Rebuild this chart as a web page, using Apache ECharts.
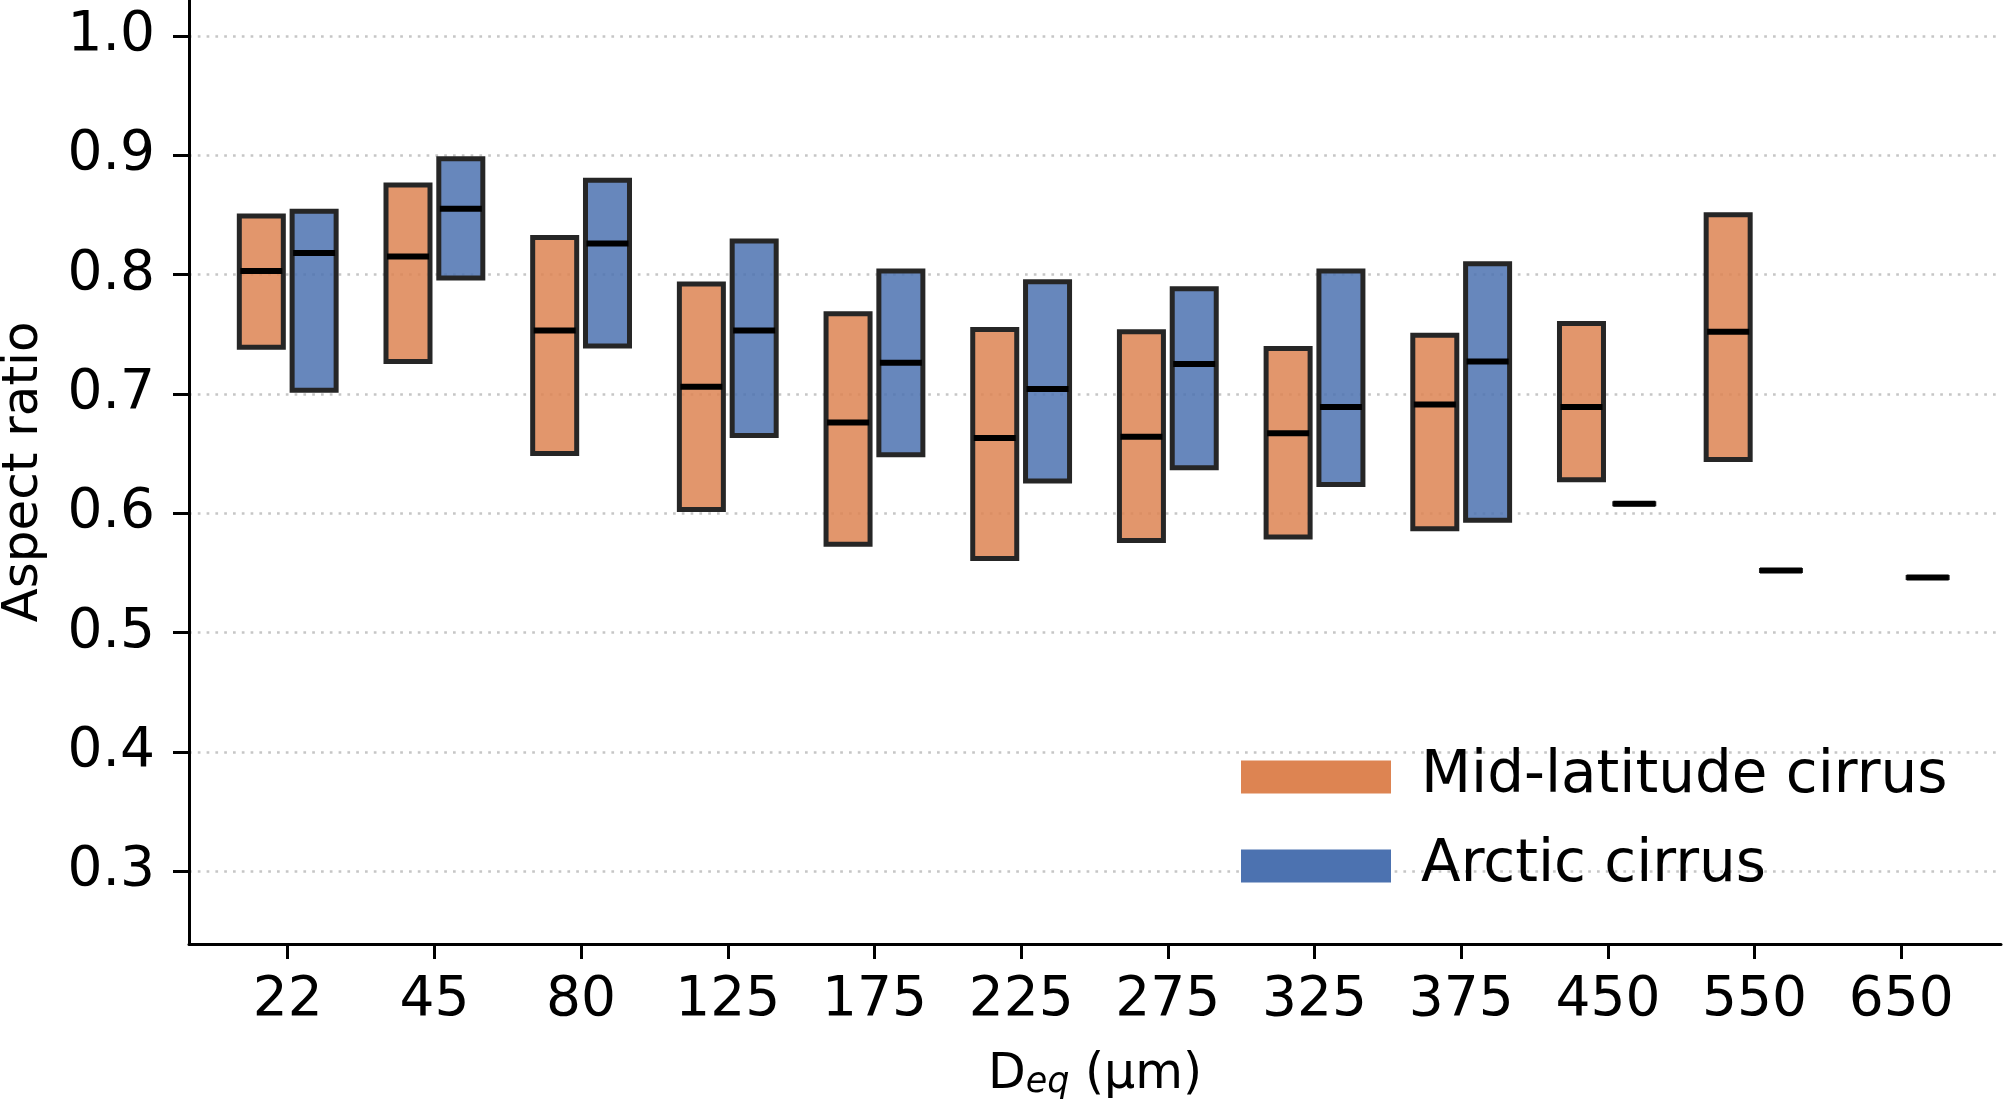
<!DOCTYPE html>
<html>
<head>
<meta charset="utf-8">
<script src="https://cdn.jsdelivr.net/npm/echarts@6/dist/echarts.min.js"></script>
<style>
html,body{margin:0;padding:0;background:#fff;}
#chart{width:2005px;height:1100px;}
</style>
</head>
<body>
<div id="chart"></div>
<script>
// ---- data ----
const categories = ['22','45','80','125','175','225','275','325','375','450','550','650'];
const yTicks = [0.3,0.4,0.5,0.6,0.7,0.8,0.9,1.0];

const midQ1  = [0.739,0.727,0.650,0.603,0.574,0.562,0.577,0.580,0.587,0.628,0.645,null];
const midMed = [0.803,0.815,0.753,0.706,0.676,0.663,0.664,0.667,0.691,0.689,0.752,null];
const midQ3  = [0.849,0.875,0.831,0.792,0.767,0.754,0.752,0.738,0.749,0.759,0.850,null];

const arcQ1  = [0.703,0.797,0.740,0.665,0.649,0.627,0.638,0.624,0.594,0.608,0.552,0.546];
const arcMed = [0.818,0.855,0.826,0.753,0.726,0.704,0.725,0.689,0.727,0.608,0.552,0.546];
const arcQ3  = [0.853,0.897,0.879,0.828,0.803,0.794,0.788,0.803,0.809,0.608,0.552,0.546];

const seriesNames = ['Mid-latitude cirrus','Arctic cirrus'];
const seriesColors = ['#DD8452','#4C72B0'];
const fillColors = ['rgba(221,132,82,0.85)','rgba(76,114,176,0.85)'];
const offsets = [-0.18, 0.18];
const boxWidth = 0.3;

function buildData(q1, med, q3){
  const out = [];
  for (let i = 0; i < categories.length; i++){
    if (med[i] == null) continue;
    out.push([i, q1[i], med[i], q3[i]]);
  }
  return out;
}

const FONT = 'DejaVu Sans';

function makeRender(k){
  return function(params, api){
    const x = api.value(0) + offsets[k];
    const q1 = api.value(1), med = api.value(2), q3 = api.value(3);
    const pTop = api.coord([x - boxWidth/2, q3]);
    const pBot = api.coord([x + boxWidth/2, q1]);
    const pMed = api.coord([x, med]);
    const w = pBot[0] - pTop[0];
    return {
      type: 'group',
      children: [
        {type:'rect', shape:{x:pTop[0], y:pTop[1], width:w, height:pBot[1]-pTop[1]},
         style:{fill:fillColors[k], stroke:'#262626', lineWidth:5}},
        {type:'line', shape:{x1:pTop[0]+1, y1:pMed[1], x2:pBot[0]-1, y2:pMed[1]},
         style:{stroke:'#000', lineWidth:6}}
      ]
    };
  };
}

const chart = echarts.init(document.getElementById('chart'), null, {renderer:'canvas'});
chart.setOption({
  animation: false,
  backgroundColor: '#fff',
  textStyle: {fontFamily: FONT},
  grid: {left:189, right:4, top:0, bottom:156, containLabel:false, outerBoundsMode:'none'},
  legend: {
    orient: 'vertical', left: 1236, top: 743,
    itemWidth: 150, itemHeight: 33, itemGap: 31,
    icon: 'rect',
    textStyle: {fontFamily: FONT, fontSize: 58, lineHeight: 56, color: '#000', padding:[0,0,0,25]},
    data: [
      {name: seriesNames[0], itemStyle:{color: seriesColors[0], borderWidth:0}},
      {name: seriesNames[1], itemStyle:{color: seriesColors[1], borderWidth:0}}
    ]
  },
  xAxis: {
    type: 'value', min: -0.673, max: 11.68,
    name: '{n|D}{sub|eq}{n| (µm)}',
    nameLocation: 'middle', nameGap: 94,
    nameTextStyle: {
      rich: {
        n: {fontFamily: FONT, fontSize: 49, color:'#000', lineHeight: 62, verticalAlign:'bottom'},
        sub: {fontFamily: FONT, fontSize: 35, fontStyle:'italic', color:'#000', lineHeight: 62, verticalAlign:'bottom'}
      }
    },
    axisLine: {show:true, onZero:false, lineStyle:{color:'#000', width:3}},
    axisTick: {show:true, length:15, lineStyle:{color:'#000', width:3}, customValues: categories.map((c,i)=>i)},
    axisLabel: {
      customValues: categories.map((c,i)=>i),
      formatter: v => categories[Math.round(v)],
      fontFamily: FONT, fontSize: 55, color:'#000', margin: 29
    },
    splitLine: {show:false}
  },
  yAxis: {
    type: 'value', min: 0.239, max: 1.03,
    name: 'Aspect ratio', nameLocation: 'middle', nameGap: 140, nameRotate: 90,
    nameTextStyle: {fontFamily: FONT, fontSize: 50, color:'#000'},
    axisLine: {show:true, onZero:false, lineStyle:{color:'#000', width:3}},
    axisTick: {show:true, length:16, lineStyle:{color:'#000', width:3}, customValues: yTicks},
    axisLabel: {
      customValues: yTicks,
      formatter: v => Number(v).toFixed(1),
      fontFamily: FONT, fontSize: 55, color:'#000', margin: 34
    },
    splitLine: {show:true, lineStyle:{color:'#c6c6c6', width:2.6, type:[2.7,6.1]}}
  },
  series: [0,1].map(k => ({
    type: 'custom',
    name: seriesNames[k],
    itemStyle: {color: seriesColors[k]},
    encode: {x:0, y:[1,2,3]},
    renderItem: makeRender(k),
    data: k === 0 ? buildData(midQ1, midMed, midQ3) : buildData(arcQ1, arcMed, arcQ3),
    z: 3
  }))
});
</script>
</body>
</html>
